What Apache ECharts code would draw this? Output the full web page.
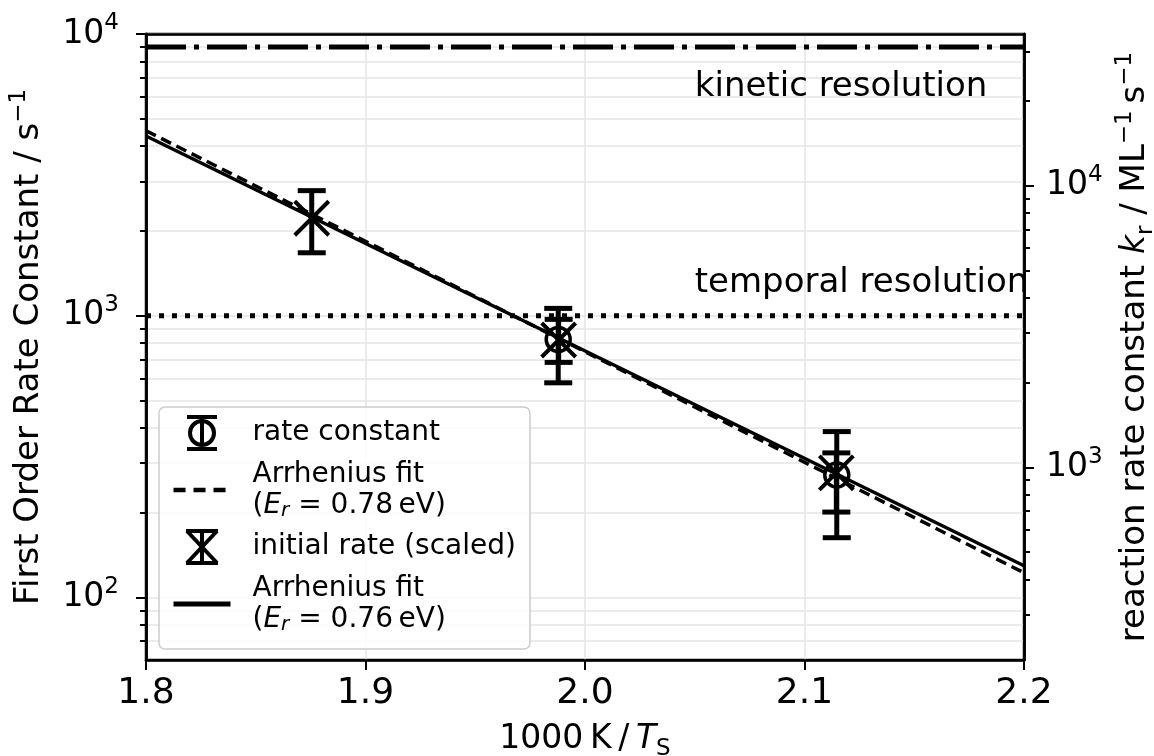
<!DOCTYPE html>
<html><head><meta charset="utf-8">
<script src="https://cdn.jsdelivr.net/npm/echarts@6/dist/echarts.min.js"></script>
<style>html,body{margin:0;padding:0;background:#fff}#c{width:1154px;height:756px}</style>
</head><body><div id="c"></div>
<script>
// ---- data ----
const xRange = [1.8, 2.2];
const leftRange = [60, 10000];
const rightRange = [207, 34550];
const leftMajor = [100, 1000, 10000];
const leftMinor = [70, 80, 90, 200, 300, 400, 500, 600, 700, 800, 900, 2000, 3000, 4000, 5000, 6000, 7000, 8000, 9000];
const rightMajor = [1000, 10000];
const rightMinor = [300, 400, 500, 600, 700, 800, 900, 2000, 3000, 4000, 5000, 6000, 7000, 8000, 9000, 20000, 30000];
const powLabels = {100: '{b|10}{sup|2}', 1000: '{b|10}{sup|3}', 10000: '{b|10}{sup|4}'};

const rateX = [1.9878, 2.1147];
const rateK = [824, 272];
const rateLow = [578, 163];
const rateHigh = [1062, 388];

const initX = [1.8755, 1.988, 2.1145];
const initK = [2218, 820, 277];
const initLow = [1673, 683, 201];
const initHigh = [2780, 971, 326];

const fitX = [1.8, 2.2];
const fit078 = [4536, 122.4];
const fit076 = [4345, 129.6];

const kineticLimit = [9000, 9000];
const temporalLimit = [1000, 1000];

const annotX = [2.05, 2.05];
const annotY = [6500, 1300];
const annotText = ['kinetic resolution', 'temporal resolution'];

// ---- chart ----
const FONT = 'DejaVu Sans';
const GRID_C = '#e4e4e4';
const chart = echarts.init(document.getElementById('c'), null, {renderer: 'canvas'});

function errRender(kind) {
  return function (params, api) {
    const x = api.value(0), y = api.value(1), lo = api.value(2), hi = api.value(3);
    const c = api.coord([x, y]), pl = api.coord([x, lo]), ph = api.coord([x, hi]);
    const cap = 14;
    const st = {stroke: '#000', lineWidth: 5, fill: null};
    const ch = [
      {type: 'line', shape: {x1: c[0], y1: pl[1], x2: c[0], y2: ph[1]}, style: st},
      {type: 'line', shape: {x1: c[0] - cap, y1: pl[1], x2: c[0] + cap, y2: pl[1]}, style: st},
      {type: 'line', shape: {x1: c[0] - cap, y1: ph[1], x2: c[0] + cap, y2: ph[1]}, style: st}
    ];
    if (kind === 'circle') {
      ch.push({type: 'circle', shape: {cx: c[0], cy: c[1], r: 12}, style: {stroke: '#000', lineWidth: 3.5, fill: null}});
    } else {
      const s = 17;
      ch.push({type: 'line', shape: {x1: c[0] - s, y1: c[1] - s, x2: c[0] + s, y2: c[1] + s}, style: {stroke: '#000', lineWidth: 4}});
      ch.push({type: 'line', shape: {x1: c[0] - s, y1: c[1] + s, x2: c[0] + s, y2: c[1] - s}, style: {stroke: '#000', lineWidth: 4}});
    }
    return {type: 'group', children: ch};
  };
}

const legendNames = {
  'rate constant': 'rate constant',
  'fit078': 'Arrhenius fit\n({it|E}{sub|r} = 0.78\u2009eV)',
  'initial rate (scaled)': 'initial rate (scaled)',
  'fit076': 'Arrhenius fit\n({it|E}{sub|r} = 0.76\u2009eV)'
};

const supRich = {
  b: {fontFamily: FONT, fontSize: 33, color: '#000', lineHeight: 44},
  sup: {fontFamily: FONT, fontSize: 23, color: '#000', verticalAlign: 'top', lineHeight: 23}
};
const titleRich = {
  it: {fontFamily: FONT, fontSize: 33, fontStyle: 'italic', color: '#000', lineHeight: 44},
  sub: {fontFamily: FONT, fontSize: 23, color: '#000', verticalAlign: 'bottom', lineHeight: 29},
  sup: {fontFamily: FONT, fontSize: 23, color: '#000', verticalAlign: 'top', lineHeight: 23}
};

const logAxisBase = {
  type: 'log', logBase: 10,
  axisLine: {show: true, lineStyle: {color: '#000', width: 2.5}},
  axisLabel: {show: false},
  axisTick: {show: true, inside: false, length: 6, lineStyle: {color: '#000', width: 2}},
  splitLine: {show: false},
  minorTick: {show: false}, minorSplitLine: {show: false}
};

const option = {
  animation: false,
  backgroundColor: '#fff',
  textStyle: {fontFamily: FONT, color: '#000'},
  grid: {left: 146, right: 130, top: 34, bottom: 96, show: true, borderColor: '#000', borderWidth: 2.5,
    containLabel: false, outerBoundsMode: 'none'},
  xAxis: [{
    type: 'value', min: xRange[0], max: xRange[1], interval: 0.1, position: 'bottom',
    name: '1000\u2009K\u2009/\u2009{it|T}{sub|S}', nameLocation: 'middle', nameGap: 57,
    nameTextStyle: {fontFamily: FONT, fontSize: 33, color: '#000', lineHeight: 44, rich: titleRich},
    axisLine: {show: true, lineStyle: {color: '#000', width: 2.5}},
    axisTick: {show: true, inside: false, length: 10, lineStyle: {color: '#000', width: 2}},
    axisLabel: {fontFamily: FONT, fontSize: 36, color: '#000', margin: 16, formatter: v => v.toFixed(1)},
    splitLine: {show: true, lineStyle: {color: GRID_C, width: 1.5}}
  }, {
    type: 'value', min: xRange[0], max: xRange[1], position: 'top',
    axisLine: {show: true, lineStyle: {color: '#000', width: 2.5}},
    axisTick: {show: false}, axisLabel: {show: false}, splitLine: {show: false}
  }],
  yAxis: [
    Object.assign({}, logAxisBase, {
      min: leftRange[0], max: leftRange[1], position: 'left',
      name: 'First Order Rate Constant / s{sup|−1}', nameLocation: 'middle', nameRotate: 90, nameGap: 88,
      nameTextStyle: {fontFamily: FONT, fontSize: 34, color: '#000', lineHeight: 44, rich: titleRich},
      axisTick: {show: true, inside: false, length: 10, customValues: leftMajor, lineStyle: {color: '#000', width: 2}},
      axisLabel: {show: true, customValues: leftMajor, fontFamily: FONT, fontSize: 33, color: '#000', margin: 27,
        formatter: v => powLabels[Math.round(v)] || '', rich: supRich},
      splitLine: {show: true, lineStyle: {color: GRID_C, width: 1.5}}
    }),
    Object.assign({}, logAxisBase, {
      min: leftRange[0], max: leftRange[1], position: 'left',
      axisTick: {show: true, inside: false, length: 6, customValues: leftMinor, lineStyle: {color: '#000', width: 2}},
      splitLine: {show: true, lineStyle: {color: GRID_C, width: 1.5}}
    }),
    Object.assign({}, logAxisBase, {
      min: rightRange[0], max: rightRange[1], position: 'right',
      name: 'reaction rate constant {it|k}{sub|r} / ML{sup|−1}\u2009s{sup|−1}', nameLocation: 'middle', nameRotate: 90, nameGap: 71,
      nameTextStyle: {fontFamily: FONT, fontSize: 34, color: '#000', lineHeight: 44, rich: titleRich},
      axisTick: {show: true, inside: false, length: 10, customValues: rightMajor, lineStyle: {color: '#000', width: 2}},
      axisLabel: {show: true, customValues: rightMajor, fontFamily: FONT, fontSize: 33, color: '#000', margin: 22,
        formatter: v => powLabels[Math.round(v)] || '', rich: supRich}
    }),
    Object.assign({}, logAxisBase, {
      min: rightRange[0], max: rightRange[1], position: 'right',
      axisTick: {show: true, inside: false, length: 6, customValues: rightMinor, lineStyle: {color: '#000', width: 2}}
    })
  ],
  legend: {
    orient: 'vertical', left: 159, top: 407,
    padding: [8, 14, 14, 12], itemGap: 8, itemWidth: 57, itemHeight: 32,
    backgroundColor: 'rgba(255,255,255,0.85)', borderColor: '#cccccc', borderWidth: 1.5, borderRadius: 6,
    symbolKeepAspect: true,
    formatter: n => legendNames[n] || n,
    textStyle: {fontFamily: FONT, fontSize: 28, color: '#000', lineHeight: 31, padding: [0, 0, 0, 17],
      rich: {it: {fontFamily: FONT, fontSize: 28, fontStyle: 'italic', color: '#000', lineHeight: 31},
             sub: {fontFamily: FONT, fontSize: 20, fontStyle: 'italic', color: '#000', verticalAlign: 'bottom', lineHeight: 20}}},
    data: [
      {name: 'rate constant', icon: 'path://M0,1L30,1M15,1L15,33M0,33L30,33M27,17A12,12 0 1 1 3,17A12,12 0 1 1 27,17Z',
        itemStyle: {color: 'rgba(0,0,0,0)', borderColor: '#000', borderWidth: 4}},
      {name: 'fit078', itemStyle: {color: 'rgba(0,0,0,0)', borderColor: 'rgba(0,0,0,0)', borderWidth: 0, opacity: 0},
        lineStyle: {color: '#000', width: 4.5, type: [12, 8], opacity: 1}},
      {name: 'initial rate (scaled)', icon: 'path://M0,1L34,1M17,1L17,35M0,35L34,35M1,1L33,35M33,1L1,35',
        itemStyle: {color: 'rgba(0,0,0,0)', borderColor: '#000', borderWidth: 4}},
      {name: 'fit076', itemStyle: {color: 'rgba(0,0,0,0)', borderColor: 'rgba(0,0,0,0)', borderWidth: 0, opacity: 0},
        lineStyle: {color: '#000', width: 5, type: 'solid', opacity: 1}}
    ]
  },
  series: [
    {name: 'kinetic', type: 'line', xAxisIndex: 0, yAxisIndex: 0, symbol: 'none', silent: true,
      data: fitX.map((x, i) => [x, kineticLimit[i]]),
      lineStyle: {color: '#000', width: 5, type: [40, 8, 5, 8], cap: 'butt'}},
    {name: 'temporal', type: 'line', xAxisIndex: 0, yAxisIndex: 0, symbol: 'none', silent: true,
      data: fitX.map((x, i) => [x, temporalLimit[i]]),
      lineStyle: {color: '#000', width: 5, type: [5, 8], cap: 'butt'}},
    {name: 'fit078', type: 'line', xAxisIndex: 0, yAxisIndex: 0, symbol: 'none',
      data: fitX.map((x, i) => [x, fit078[i]]), itemStyle: {color: '#000'},
      lineStyle: {color: '#000', width: 3.5, type: [11, 6]}},
    {name: 'fit076', type: 'line', xAxisIndex: 0, yAxisIndex: 0, symbol: 'none',
      data: fitX.map((x, i) => [x, fit076[i]]), itemStyle: {color: '#000'},
      lineStyle: {color: '#000', width: 3.5, type: 'solid'}},
    {name: 'rate constant', type: 'custom', xAxisIndex: 0, yAxisIndex: 0, renderItem: errRender('circle'),
      itemStyle: {color: '#000'}, encode: {x: 0, y: 1},
      data: rateX.map((x, i) => [x, rateK[i], rateLow[i], rateHigh[i]])},
    {name: 'initial rate (scaled)', type: 'custom', xAxisIndex: 0, yAxisIndex: 0, renderItem: errRender('x'),
      itemStyle: {color: '#000'}, encode: {x: 0, y: 1},
      data: initX.map((x, i) => [x, initK[i], initLow[i], initHigh[i]])},
    {name: 'annotations', type: 'scatter', xAxisIndex: 0, yAxisIndex: 0, symbolSize: 0, silent: true,
      itemStyle: {opacity: 1},
      data: annotX.map((x, i) => [x, annotY[i]]),
      label: {show: true, position: 'right', distance: 0, fontFamily: FONT, fontSize: 34, color: '#000', opacity: 1,
        formatter: p => annotText[p.dataIndex]}}
  ]
};
chart.setOption(option);
</script></body></html>
